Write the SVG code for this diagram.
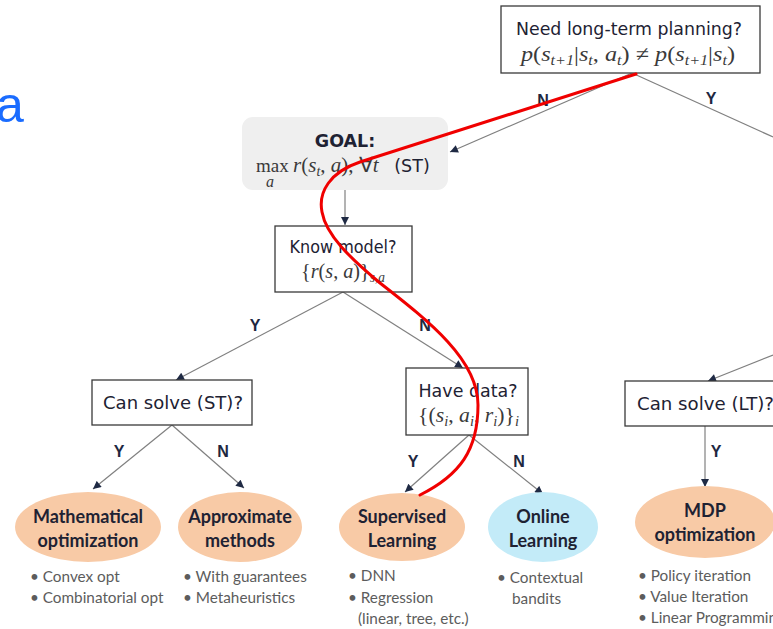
<svg xmlns="http://www.w3.org/2000/svg" width="773" height="629" viewBox="0 0 773 629">
  <style>
    .box{fill:#fff;stroke:#3a3a3a;stroke-width:1.3}
    .q{font-family:"DejaVu Sans","Liberation Sans",sans-serif;font-size:17.5px;fill:#1e2233;text-anchor:middle}
    .m{font-family:"Liberation Serif",serif;font-style:italic;font-size:21px;fill:#3a3a3a}
    .up{font-style:normal}
    .op{font-style:normal;font-size:19px}
    .sub{font-size:14px}
    .lim{font-size:16px}
    .edge{stroke:#808080;stroke-width:1.2;fill:none}
    .arr{marker-end:url(#ah)}
    .yn{font-family:"Liberation Sans",sans-serif;font-weight:bold;font-size:16px;fill:#1e2740;text-anchor:middle}
    .leafA{fill:#f8caa6}
    .leafB{fill:#c3ebf8}
    .leaf{font-family:Lato,"Liberation Sans",sans-serif;font-weight:bold;font-size:18px;fill:#1e2233;text-anchor:middle}
    .bul{font-family:Lato,"Liberation Sans",sans-serif;font-size:15.3px;fill:#5c5c5c}
  </style>
  <defs>
    <marker id="ah" viewBox="0 0 10 10" refX="10" refY="5" markerWidth="9" markerHeight="8" orient="auto" markerUnits="userSpaceOnUse">
      <path d="M0,0 L10,5 L0,10 z" fill="#1f2a44"/>
    </marker>
  </defs>

  <rect width="773" height="629" fill="#fff"/>

  <!-- partial heading letter at the left edge -->
  <text x="-4" y="122" font-family="'Liberation Sans',sans-serif" font-size="50" fill="#1a6cff">a</text>

  <!-- connectors -->
  <g id="connectors">
    <path class="edge arr" d="M632,73 L450,152"/>
    <path class="edge" d="M632,73 L773,137"/>
    <path class="edge arr" d="M345,190 L345,225"/>
    <path class="edge arr" d="M343,292 L176,380"/>
    <path class="edge arr" d="M343,292 L463,368"/>
    <path class="edge arr" d="M172,425 L93,489"/>
    <path class="edge arr" d="M172,425 L244,488"/>
    <path class="edge arr" d="M469,435 L405,492"/>
    <path class="edge arr" d="M469,435 L543,494"/>
    <path class="edge arr" d="M773,355 L708,381"/>
    <path class="edge arr" d="M705,425 L705,487"/>
    <text class="yn" x="543" y="106">N</text>
    <text class="yn" x="711" y="104">Y</text>
    <text class="yn" x="255" y="331">Y</text>
    <text class="yn" x="425" y="331">N</text>
    <text class="yn" x="119" y="457">Y</text>
    <text class="yn" x="223" y="457">N</text>
    <text class="yn" x="413" y="467">Y</text>
    <text class="yn" x="519" y="467">N</text>
    <text class="yn" x="716" y="457">Y</text>
  </g>

  <!-- question nodes -->
  <g id="planning">
    <rect class="box" x="501" y="6" width="259" height="67"/>
    <text class="q" x="629" y="35" textLength="226" lengthAdjust="spacingAndGlyphs">Need long-term planning?</text>
    <text class="m" x="521" y="61" textLength="214" lengthAdjust="spacingAndGlyphs">p<tspan class="up">(</tspan>s<tspan class="sub" dy="4">t+1</tspan><tspan class="up" dy="-4">|</tspan>s<tspan class="sub" dy="4">t</tspan><tspan class="up" dy="-4">, </tspan>a<tspan class="sub" dy="4">t</tspan><tspan class="up" dy="-4">) ≠ </tspan>p<tspan class="up">(</tspan>s<tspan class="sub" dy="4">t+1</tspan><tspan class="up" dy="-4">|</tspan>s<tspan class="sub" dy="4">t</tspan><tspan class="up" dy="-4">)</tspan></text>
  </g>

  <g id="goal">
    <rect x="242" y="117" width="206" height="73" rx="11" fill="#efefef"/>
    <text class="q" x="345" y="147" font-weight="bold">GOAL:</text>
    <text class="m" x="256" y="172"><tspan class="op">max</tspan><tspan class="lim" x="266" dy="15">a</tspan><tspan x="293" dy="-15">r</tspan><tspan class="up">(</tspan>s<tspan class="sub" dy="4">t</tspan><tspan class="up" dy="-4">, </tspan>a<tspan class="up">), ∀</tspan>t</text>
    <text class="q" x="412" y="172" font-size="19">(ST)</text>
  </g>

  <g id="know-model">
    <rect class="box" x="275" y="226" width="137" height="66"/>
    <text class="q" x="343" y="253" textLength="107" lengthAdjust="spacingAndGlyphs">Know model?</text>
    <text class="m" x="301" y="278" textLength="84" lengthAdjust="spacingAndGlyphs"><tspan class="up">{</tspan>r<tspan class="up">(</tspan>s<tspan class="up">, </tspan>a<tspan class="up">)}</tspan><tspan class="sub" dy="4">s,a</tspan></text>
  </g>

  <g id="can-solve-st">
    <rect class="box" x="92" y="380" width="160" height="45"/>
    <text class="q" x="173" y="409" textLength="140" lengthAdjust="spacingAndGlyphs">Can solve (ST)?</text>
  </g>

  <g id="have-data">
    <rect class="box" x="406" y="368" width="122" height="67"/>
    <text class="q" x="468" y="397" textLength="99" lengthAdjust="spacingAndGlyphs">Have data?</text>
    <text class="m" x="418" y="422" textLength="101" lengthAdjust="spacingAndGlyphs"><tspan class="up">{(</tspan>s<tspan class="sub" dy="4">i</tspan><tspan class="up" dy="-4">, </tspan>a<tspan class="sub" dy="4">i</tspan><tspan class="up" dy="-4">, </tspan>r<tspan class="sub" dy="4">i</tspan><tspan class="up" dy="-4">)}</tspan><tspan class="sub" dy="4">i</tspan></text>
  </g>

  <g id="can-solve-lt">
    <rect class="box" x="625" y="381" width="160" height="45"/>
    <text class="q" x="705.5" y="410" textLength="137" lengthAdjust="spacingAndGlyphs">Can solve (LT)?</text>
  </g>

  <!-- leaf nodes -->
  <g id="math-opt">
    <ellipse class="leafA" cx="88" cy="527" rx="73" ry="35"/>
    <text class="leaf" x="88" y="523">Mathematical</text>
    <text class="leaf" x="88" y="547">optimization</text>
    <text class="bul" x="30" y="582">• Convex opt</text>
    <text class="bul" x="30" y="603">• Combinatorial opt</text>
  </g>

  <g id="approx">
    <ellipse class="leafA" cx="240" cy="527" rx="62" ry="35"/>
    <text class="leaf" x="240" y="523">Approximate</text>
    <text class="leaf" x="240" y="547">methods</text>
    <text class="bul" x="183" y="582">• With guarantees</text>
    <text class="bul" x="183" y="603">• Metaheuristics</text>
  </g>

  <g id="supervised">
    <ellipse class="leafA" cx="402" cy="527" rx="63" ry="34"/>
    <text class="leaf" x="402" y="523">Supervised</text>
    <text class="leaf" x="402" y="547">Learning</text>
    <text class="bul" x="348" y="581">• DNN</text>
    <text class="bul" x="348" y="603">• Regression</text>
    <text class="bul" x="358" y="624">(linear, tree, etc.)</text>
  </g>

  <g id="online">
    <ellipse class="leafB" cx="543" cy="527" rx="55" ry="35"/>
    <text class="leaf" x="543" y="523">Online</text>
    <text class="leaf" x="543" y="547">Learning</text>
    <text class="bul" x="497" y="583">• Contextual</text>
    <text class="bul" x="512" y="604">bandits</text>
  </g>

  <g id="mdp">
    <ellipse class="leafA" cx="705" cy="522" rx="70" ry="36"/>
    <text class="leaf" x="705" y="517">MDP</text>
    <text class="leaf" x="705" y="541">optimization</text>
    <text class="bul" x="638" y="581">• Policy iteration</text>
    <text class="bul" x="638" y="602">• Value Iteration</text>
    <text class="bul" x="638" y="623">• Linear Programming</text>
  </g>

  <!-- red path across the decision tree -->
  <path d="M636,74 L360,162 C330,172 318,192 322,212 C326,235 350,258 380,283 C430,322 478,360 478,405 C478,450 460,475 420,495" fill="none" stroke="#f00000" stroke-width="3" stroke-linecap="round"/>
</svg>
